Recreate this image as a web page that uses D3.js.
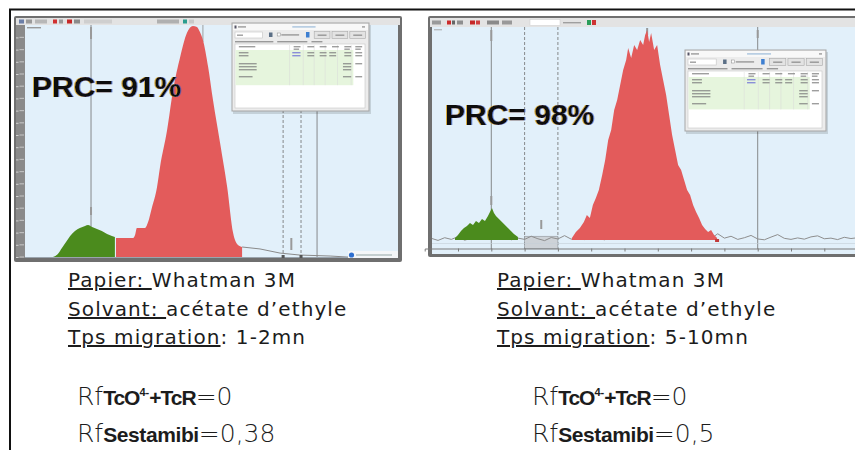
<!DOCTYPE html>
<html><head><meta charset="utf-8">
<script src="https://cdn.jsdelivr.net/npm/d3@7"></script>
<style>html,body{margin:0;padding:0;background:#fff;}svg{display:block}</style>
</head><body>
<svg id="c" width="855" height="450"></svg>
<script>
// ---------------- DATA ----------------
// Left radiochromatogram (position 0-100, counts 0-95)
const leftGreenPos = [7.5, 8.8, 9.9, 11.0, 12.1, 13.4, 14.7, 16.1, 16.9, 18.0, 19.3, 20.6, 22.0, 23.3, 24.1];
const leftGreenCnt = [0, 1.2, 3.7, 6.1, 8.6, 10.7, 11.9, 12.7, 13.1, 12.3, 11.5, 10.7, 9.4, 8.6, 8.2];
const leftRedPos = [24.4, 29.0, 29.5, 30.0, 32.2, 33.0, 34.0, 35.4, 36.2, 38.1, 39.7, 41.6, 43.4, 45.0, 46.1, 46.9, 47.7, 49.1, 50.4, 52.3, 54.2, 55.8, 57.1, 58.2];
const leftRedCnt = [7.8, 7.8, 9.0, 11.9, 11.9, 14.3, 20.1, 28.7, 36.9, 52.0, 68.4, 82.0, 91.8, 94.7, 94.3, 92.2, 88.9, 77.9, 64.3, 46.7, 28.7, 9.8, 4.9, 4.1];
const leftTailPos = [58.2, 63.0, 68.4, 73.7, 81.8, 86.3, 100];
const leftTailCnt = [4.1, 3.3, 1.6, 0.8, 0.4, 0, 0];
const leftSolidLines = [17.7, 78.3];
const leftDashedLines = [69.2, 74.0];
const leftYTicks = [0,5,10,15,20,25,30,35,40,45,50,55,60,65,70,75,80,85,90];

// Right radiochromatogram (position mm 0-130, counts 0-100)
const rightGreenPos = [9.1, 10.0, 10.9, 11.8, 12.7, 13.6, 14.5, 15.4, 16.3, 17.2, 18.1, 19.0, 19.6, 20.2, 20.8, 21.4, 22.3, 23.2, 24.1, 25.0, 25.9, 26.8, 28.0];
const rightGreenCnt = [1.0, 2.4, 4.3, 5.8, 6.7, 8.2, 7.2, 9.1, 8.2, 10.1, 9.1, 11.5, 13.5, 15.4, 13.0, 11.5, 10.1, 8.7, 7.2, 5.8, 4.3, 2.9, 1.4];
const rightRedPos = [44.2,45.4,46.6,47.8,48.7,49.6,50.5,51.4,52.3,53.3,54.2,55.1,56.0,56.9,57.8,58.7,59.6,60.5,61.1,62.0,62.9,63.8,64.7,65.6,66.2,66.8,67.4,68.0,68.9,69.8,70.7,71.6,72.5,73.4,74.3,75.2,76.1,77.0,77.9,78.8,79.7,80.6,81.5,82.4,83.3,84.2,85.1,86.0,86.9,87.8];
const rightRedCnt = [1.0,3.8,5.8,8.7,12.0,10.6,16.8,20.2,24.0,31.3,38.5,48.1,52.9,62.5,67.3,74.5,81.7,86.5,92.3,87.5,93.8,91.3,96.2,93.8,98.6,101,95.2,99.5,91.3,93.8,84.1,76.9,69.7,60.1,50.5,43.3,36.1,33.7,28.8,24.0,21.6,16.8,13.5,10.6,7.2,5.3,3.8,4.8,2.4,1.0];
const rightBasePos = [2,4,6,8,10,12,14,16,18,20,22,24,26,28,30,32,34,36,38,40,42,44,46,48,50,52,54,56,58,60,62,64,66,68,70,72,74,76,78,80,82,84,86,88,90,92,94,96,98,100,102,104,106,108,110,112,114,116,118,120,122,124,126,128,130];
const rightBaseCnt = [0.8,-0.2,1.1,0.3,1.6,-0.1,0.9,0.4,1.3,0.2,0.7,1.5,0.1,0.9,0.3,1.8,0.6,-0.3,1.2,0.5,2.1,0.4,1.0,0.2,1.4,0.8,0.1,1.7,0.5,0.9,0.3,1.2,0.6,1.9,0.2,0.8,1.3,0.4,2.4,1.1,0.2,1.6,0.7,3.0,0.9,1.8,0.3,1.1,2.2,0.5,0.1,1.4,2.6,0.8,0.3,1.0,0.4,1.5,2.0,0.6,0.9,0.2,1.3,0.7,1.1];
const rightSolidLines = [20, 100];
const rightDashedLines = [30, 40];
const rightRegion = [30, 40];
const rightXTicks = [10,20,30,40,50,60,70,80,90,100,110,120];

// Texts
const prcValues = ["PRC= 91%", "PRC= 98%"];
const infoLabels = ["Papier: ", "Solvant: ", "Tps migration"];
const infoValuesLeft = ["Whatman 3M", "acétate d’ethyle", ": 1-2mn"];
const infoValuesRight = ["Whatman 3M", "acétate d’ethyle", ": 5-10mn"];
const rfSubs = ["TcO", "4-", "+TcR", "Sestamibi"];
const rfValuesLeft = ["0", "0,38"];
const rfValuesRight = ["0", "0,5"];

// ---------------- DRAW ----------------
const svg = d3.select('#c');
svg.append('rect').attr('width',855).attr('height',450).attr('fill','#fff');
const defs = svg.append('defs');

// chromatic fringe filter for the PRC labels (single text element)
const fl = defs.append('filter').attr('id','fringe').attr('x','-5%').attr('y','-15%').attr('width','110%').attr('height','130%');
fl.append('feFlood').attr('flood-color','#d9a21f').attr('flood-opacity',0.85).attr('result','o');
fl.append('feComposite').attr('in','o').attr('in2','SourceAlpha').attr('operator','in').attr('result','o2');
fl.append('feOffset').attr('in','o2').attr('dx',-1).attr('dy',0).attr('result','o3');
fl.append('feFlood').attr('flood-color','#2f57c7').attr('flood-opacity',0.6).attr('result','b');
fl.append('feComposite').attr('in','b').attr('in2','SourceAlpha').attr('operator','in').attr('result','b2');
fl.append('feOffset').attr('in','b2').attr('dx',1).attr('dy',0).attr('result','b3');
const fm = fl.append('feMerge');
fm.append('feMergeNode').attr('in','o3');
fm.append('feMergeNode').attr('in','b3');
fm.append('feMergeNode').attr('in','SourceGraphic');

const RED = '#e35b5b', GREEN = '#4b8b1d', BG = '#e2f0fa';

// outer border
svg.append('path').attr('d','M10,450 V9.5 H855').attr('fill','none').attr('stroke','#111').attr('stroke-width',2);

function ph(g,x,y,w,c){ g.append('rect').attr('x',x).attr('y',y).attr('width',w).attr('height',1.4).attr('fill',c||'#7d7d7d').attr('opacity',0.75); }

function dialog(x,y,w,h){
  const g = svg.append('g');
  g.append('rect').attr('x',x+1).attr('y',y+2).attr('width',w+1).attr('height',h+1).attr('fill','#000').attr('opacity',0.13);
  g.append('rect').attr('x',x).attr('y',y).attr('width',w).attr('height',h).attr('fill','#ececec').attr('stroke','#a5a5a5').attr('stroke-width',1);
  g.append('rect').attr('x',x+1).attr('y',y+1).attr('width',w-2).attr('height',6).attr('fill','#f8f8f8');
  g.append('rect').attr('x',x+2.5).attr('y',y+2.5).attr('width',2).attr('height',3).attr('fill','#556');
  ph(g,x+6,y+3.2,8);
  ph(g,x+w*0.44,y+3.2,w*0.17,'#8fb3d6');
  ph(g,x+w-7,y+3.2,3);
  g.append('rect').attr('x',x+3).attr('y',y+9).attr('width',w*0.2).attr('height',6).attr('fill','#fff').attr('stroke','#c4c4c4').attr('stroke-width',0.6);
  ph(g,x+5,y+11.5,6);
  g.append('rect').attr('x',x+w*0.27).attr('y',y+9.5).attr('width',3.5).attr('height',4.5).attr('fill','#5b6f86');
  g.append('rect').attr('x',x+w*0.33).attr('y',y+10).attr('width',3).attr('height',3).attr('fill','#fff').attr('stroke','#888').attr('stroke-width',0.5);
  ph(g,x+w*0.36,y+11.2,w*0.13);
  g.append('rect').attr('x',x+w*0.54).attr('y',y+9).attr('width',3.5).attr('height',5.5).attr('fill','#3d7fd1');
  for(let i=0;i<3;i++){
    const bx = x+w*0.6+i*w*0.13;
    g.append('rect').attr('x',bx).attr('y',y+8.5).attr('width',w*0.115).attr('height',7).attr('fill','#e3e3e3').attr('stroke','#a9a9a9').attr('stroke-width',0.6);
    ph(g,bx+w*0.025,y+11.5,w*0.065);
  }
  ph(g,x+3,y+18,w*0.28); ph(g,x+w*0.33,y+18,w*0.22); ph(g,x+w*0.58,y+18,w*0.08);
  g.append('rect').attr('x',x+3).attr('y',y+21).attr('width',w-7).attr('height',h-24).attr('fill','#fff').attr('stroke','#c6c6c6').attr('stroke-width',0.6);
  g.append('rect').attr('x',x+3.5).attr('y',y+27).attr('width',w*0.86).attr('height',h*0.4).attr('fill','#e6f5dd');
  [0.42,0.52,0.6,0.68,0.77,0.87].forEach(f=>{
    g.append('line').attr('x1',x+w*f).attr('x2',x+w*f).attr('y1',y+22).attr('y2',y+27+h*0.4).attr('stroke','#d8d8d8').attr('stroke-width',0.5);
  });
  ph(g,x+w*0.05,y+23,w*0.12);
  [0.45,0.55,0.64,0.73,0.82,0.9].forEach(f=>ph(g,x+w*f,y+23,w*0.05));
  [0.45,0.82,0.9].forEach(f=>ph(g,x+w*f,y+25.5,w*0.04));
  [y+29,y+32].forEach(yy=>{
    ph(g,x+w*0.05,yy,w*0.07);
    ph(g,x+w*0.44,yy,w*0.06,'#6b6bd6');
    [0.55,0.64,0.71,0.82,0.9].forEach(f=>ph(g,x+w*f,yy,w*0.05));
  });
  [y+40,y+43,y+46].forEach((yy,i)=>{ ph(g,x+w*0.05,yy,w*0.13); ph(g,x+w*0.81,yy,w*0.06); if(i===0) ph(g,x+w*0.9,yy,w*0.05); });
  ph(g,x+w*0.05,y+53,w*0.1); ph(g,x+w*0.81,y+53,w*0.06); ph(g,x+w*0.9,y+53,w*0.05);
}

function prc(x,y,txt){
  svg.append('text').attr('x',x).attr('y',y)
    .attr('font-family','Liberation Sans, Arial, sans-serif').attr('font-weight','bold').attr('font-size',30)
    .attr('fill','#111').attr('filter','url(#fringe)').text(txt);
}

// ============ LEFT PANEL ============
svg.append('rect').attr('x',14).attr('y',16).attr('width',388).attr('height',246).attr('rx',2).attr('fill','#6f6f6f');
svg.append('rect').attr('x',16).attr('y',18).attr('width',384).attr('height',7).attr('fill','#e3e3e3');
svg.append('rect').attr('x',16).attr('y',25).attr('width',9).attr('height',233).attr('fill','#8a8a8a');
svg.append('rect').attr('x',25).attr('y',25).attr('width',373).attr('height',233).attr('fill',BG);
[[19,'#6b7fa8',5],[26,'#9a9a9a',6],[35,'#b7b7b7',12],[53,'#d03030',4],[59,'#999',4],[67,'#c62828',5],[74,'#8b8b8b',6],[84,'#cfcfcf',28],[157,'#b0b0b0',22],[183,'#2a9d8f',4],[189,'#c9c9c9',5]].forEach(d=>{
  svg.append('rect').attr('x',d[0]).attr('y',19.5).attr('width',d[2]).attr('height',4).attr('fill',d[1]);
});
svg.append('rect').attr('x',27).attr('y',27).attr('width',14).attr('height',1.4).attr('fill','#999');

const xL = d3.scaleLinear().domain([0,100]).range([25,398]);
const yL = d3.scaleLinear().domain([0,95]).range([257,25.2]);
defs.append('clipPath').attr('id','clipL').append('rect').attr('x',25).attr('y',25).attr('width',373).attr('height',233);
const gL = svg.append('g').attr('clip-path','url(#clipL)');

const axL = svg.append('g').attr('transform','translate(16,0)').call(d3.axisRight(yL).tickValues(leftYTicks).tickSize(2.5).tickFormat(''));
axL.select('.domain').remove();
axL.selectAll('line').attr('stroke','#d0d0d0');
leftYTicks.forEach(v=>{ svg.append('rect').attr('x',19.5).attr('y',yL(v)-0.6).attr('width',4.5).attr('height',1.2).attr('fill','#bdbdbd'); });

leftSolidLines.forEach(p=>gL.append('line').attr('x1',xL(p)).attr('x2',xL(p)).attr('y1',25).attr('y2',258).attr('stroke','#6e6e6e').attr('stroke-width',0.8));
leftDashedLines.forEach(p=>gL.append('line').attr('x1',xL(p)).attr('x2',xL(p)).attr('y1',25).attr('y2',258).attr('stroke','#6e6e6e').attr('stroke-width',0.8).attr('stroke-dasharray','3,2'));
gL.append('rect').attr('x',xL(17.7)-1).attr('y',27).attr('width',2).attr('height',12).attr('fill','#9a9a9a');
gL.append('rect').attr('x',xL(17.7)-1).attr('y',207).attr('width',2).attr('height',8).attr('fill','#9a9a9a');
gL.append('line').attr('x1',xL(47.7)).attr('x2',xL(47.7)).attr('y1',25).attr('y2',42).attr('stroke','#8a8a8a').attr('stroke-width',0.8);
gL.append('rect').attr('x',xL(71.4)-1).attr('y',238).attr('width',2).attr('height',12).attr('fill','#9a9a9a');

const lineL = d3.line().x(d=>xL(d[0])).y(d=>yL(d[1]));
gL.append('path').datum(d3.zip(leftTailPos,leftTailCnt)).attr('d',lineL).attr('fill','none').attr('stroke','#8a8a8a').attr('stroke-width',1);
gL.append('line').attr('x1',25).attr('x2',398).attr('y1',257.5).attr('y2',257.5).attr('stroke','#9aa4ad').attr('stroke-width',1);
const areaL = d3.area().x(d=>xL(d[0])).y0(yL(0)).y1(d=>yL(d[1])).curve(d3.curveMonotoneX);
gL.append('path').datum(d3.zip(leftGreenPos,leftGreenCnt)).attr('d',areaL).attr('fill',GREEN);
gL.append('path').datum(d3.zip(leftRedPos,leftRedCnt)).attr('d',areaL).attr('fill',RED);
gL.append('rect').attr('x',xL(69.2)-1.5).attr('y',255).attr('width',3).attr('height',3).attr('fill','#555');
gL.append('rect').attr('x',xL(74.0)-1.5).attr('y',255).attr('width',3).attr('height',3).attr('fill','#555');
svg.append('rect').attr('x',348).attr('y',251).attr('width',50).attr('height',7).attr('fill','#f4f6f8');
svg.append('circle').attr('cx',351.5).attr('cy',255).attr('r',2.6).attr('fill','#2d6fd0');
ph(svg,356,254.3,36,'#9aa');

dialog(232,23,137,88);
prc(32,97,prcValues[0]);

// ============ RIGHT PANEL ============
svg.append('rect').attr('x',428).attr('y',16).attr('width',432).attr('height',241).attr('rx',2).attr('fill','#6f6f6f');
svg.append('rect').attr('x',430).attr('y',18).attr('width',425).attr('height',9).attr('fill','#e3e3e3');
svg.append('rect').attr('x',432).attr('y',27).attr('width',423).attr('height',227).attr('fill',BG);
[[432,'#9a9a9a',9],[447,'#cc2b2b',4],[452,'#666',3],[457,'#8f8f8f',6],[470,'#c62828',5],[476,'#d04040',4],[487,'#8a8a8a',12],[502,'#999',10]].forEach(d=>{
  svg.append('rect').attr('x',d[0]).attr('y',20.5).attr('width',d[2]).attr('height',4).attr('fill',d[1]);
});
svg.append('rect').attr('x',530).attr('y',19.5).attr('width',30).attr('height',6).attr('fill','#fff').attr('stroke','#ccc').attr('stroke-width',0.5);
ph(svg,563,22,18,'#888');
svg.append('rect').attr('x',587).attr('y',20).attr('width',4).attr('height',5).attr('fill','#2a9d5a');
svg.append('rect').attr('x',592).attr('y',20).attr('width',4).attr('height',5).attr('fill','#c33');
ph(svg,434,29,8,'#aaa');

const xR = d3.scaleLinear().domain([0,130]).range([424.7,857.6]);
const yR = d3.scaleLinear().domain([0,100]).range([240,32]);
defs.append('clipPath').attr('id','clipR').append('rect').attr('x',432).attr('y',27).attr('width',423).attr('height',227);
const gR = svg.append('g').attr('clip-path','url(#clipR)');

rightSolidLines.forEach(p=>gR.append('line').attr('x1',xR(p)).attr('x2',xR(p)).attr('y1',27).attr('y2',249).attr('stroke','#6e6e6e').attr('stroke-width',0.8));
rightDashedLines.forEach(p=>gR.append('line').attr('x1',xR(p)).attr('x2',xR(p)).attr('y1',27).attr('y2',249).attr('stroke','#6e6e6e').attr('stroke-width',0.8).attr('stroke-dasharray','3,2'));
gR.append('rect').attr('x',xR(20)-1).attr('y',30).attr('width',2).attr('height',11).attr('fill','#999');
gR.append('rect').attr('x',xR(100)-1).attr('y',30).attr('width',2).attr('height',8).attr('fill','#999');
gR.append('rect').attr('x',xR(66.8)-1).attr('y',28).attr('width',2).attr('height',7).attr('fill','#999');
gR.append('rect').attr('x',xR(20)-1).attr('y',196).attr('width',2).attr('height',9).attr('fill','#999');
gR.append('rect').attr('x',xR(35)-1).attr('y',220).attr('width',2).attr('height',9).attr('fill','#999');

gR.append('rect').attr('x',xR(rightRegion[0])).attr('y',yR(1.8)).attr('width',xR(rightRegion[1])-xR(rightRegion[0])).attr('height',248.5-yR(1.8)).attr('fill','#cdd2d7').attr('stroke','#8e9499').attr('stroke-width',0.6);

const lineR = d3.line().x(d=>xR(d[0])).y(d=>yR(d[1]));
gR.append('path').datum(d3.zip(rightBasePos,rightBaseCnt)).attr('d',lineR).attr('fill','none').attr('stroke','#8e8e8e').attr('stroke-width',1);
const areaR = d3.area().x(d=>xR(d[0])).y0(yR(0)).y1(d=>yR(d[1]));
gR.append('path').datum(d3.zip(rightGreenPos,rightGreenCnt)).attr('d',areaR).attr('fill',GREEN);
gR.append('path').datum(d3.zip(rightRedPos,rightRedCnt)).attr('d',areaR).attr('fill',RED);
gR.append('rect').attr('x',xR(87.8)-2).attr('y',yR(0)-1).attr('width',4).attr('height',3).attr('fill','#c23a3a');

const axR = svg.append('g').attr('transform','translate(0,248.5)').call(d3.axisBottom(xR).tickValues(rightXTicks).tickSize(3).tickFormat(''));
axR.select('.domain').attr('stroke','#7a7a7a');
axR.selectAll('line').attr('stroke','#7a7a7a');
svg.append('line').attr('x1',432).attr('x2',855).attr('y1',243.5).attr('y2',243.5).attr('stroke','#c5ced6').attr('stroke-width',0.6);

dialog(685,50,141,81);
prc(445,125,prcValues[1]);

// ============ TEXTS ============
function info(x0, vals){
  const ys = [287,316,344];
  infoLabels.forEach((lab,i)=>{
    const t = svg.append('text').attr('x',x0).attr('y',ys[i]).attr('font-family','DejaVu Sans, Verdana, sans-serif')
      .attr('font-size',20).attr('letter-spacing',1.1).attr('fill','#1c1c1c').style('white-space','pre');
    t.append('tspan').style('text-decoration','underline').text(lab);
    t.append('tspan').text(vals[i]);
  });
}
info(68, infoValuesLeft);
info(497, infoValuesRight);

function rf(x0, vals){
  const bold = t=>t.attr('font-family','Liberation Sans, Arial, sans-serif').attr('font-weight','bold');
  const big = t=>t.attr('font-family','DejaVu Sans, sans-serif').attr('font-weight',200).attr('font-size',25);
  const t1 = svg.append('text').attr('x',x0).attr('y',405).attr('fill','#1c1c1c');
  big(t1.append('tspan')).text('Rf');
  bold(t1.append('tspan')).attr('font-size',21).attr('letter-spacing',-1).text(rfSubs[0]);
  bold(t1.append('tspan')).attr('font-size',11).attr('dy',-9).text(rfSubs[1]);
  bold(t1.append('tspan')).attr('font-size',21).attr('dy',9).attr('letter-spacing',-1).text(rfSubs[2]);
  big(t1.append('tspan')).text('='+vals[0]);
  const t2 = svg.append('text').attr('x',x0).attr('y',442).attr('fill','#1c1c1c');
  big(t2.append('tspan')).text('Rf');
  bold(t2.append('tspan')).attr('font-size',21).attr('letter-spacing',-0.4).text(rfSubs[3]);
  big(t2.append('tspan')).text('='+vals[1]);
}
rf(77, rfValuesLeft);
rf(532, rfValuesRight);
</script>
</body></html>
